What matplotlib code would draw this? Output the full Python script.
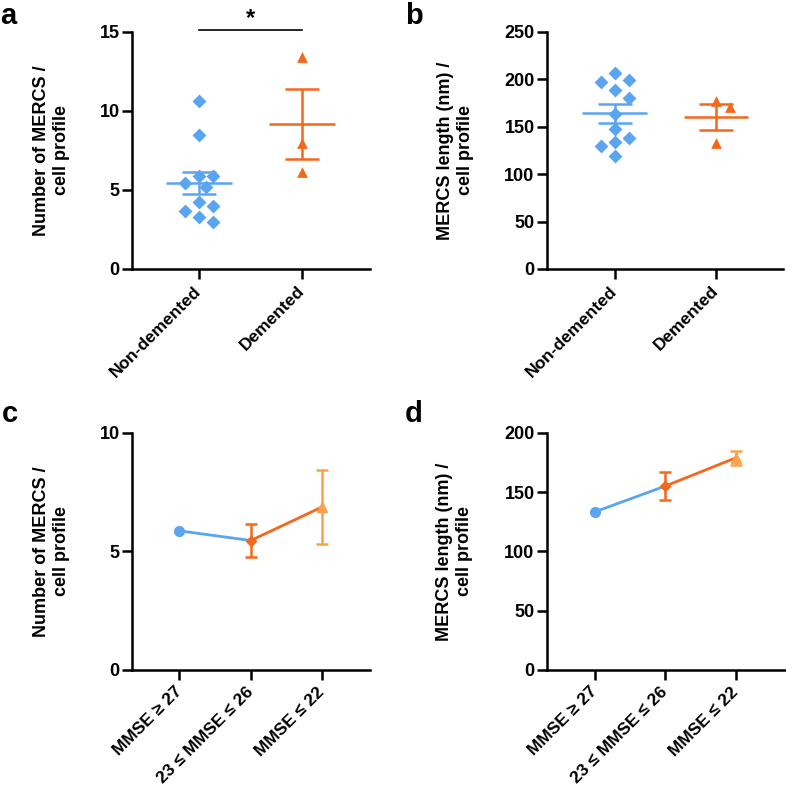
import numpy as np
import matplotlib.pyplot as plt

plt.rcParams['font.family'] = ['Liberation Sans', 'DejaVu Sans']
plt.rcParams['font.weight'] = 'bold'

BLUE = '#5AA5F0'
ORANGE = '#F5681C'
LIGHT = '#F9A24C'

# data
groups = ['Non-demented', 'Demented']
count_nd = [10.64, 8.48, 5.89, 5.89, 5.47, 5.18, 4.21, 3.96, 3.64, 3.28, 2.97]
count_d = [13.42, 7.99, 6.12]
length_nd = [207, 199.3, 197, 188.7, 180.3, 163.7, 147.9, 138, 133.8, 129.6, 119]
length_d = [177, 171, 133]

mmse = ['MMSE \u2265 27', '23 \u2264 MMSE \u2264 26', 'MMSE \u2264 22']
count_mean = [5.87, 5.46, 6.88]
count_err = [0, 0.69, 1.55]
length_mean = [133.4, 155.2, 179.0]
length_err = [0, 11.9, 5.8]


def swarm(vals, ypx, xpx, size=13, step=0.07):
    # simple beeswarm: push points sideways until they don't overlap
    placed = []
    offs = []
    cands = [0] + [s * step * i for i in range(1, 15) for s in (1, -1)]
    for v in vals:
        y = v * ypx
        for c in cands:
            if all(((c - o) * xpx) ** 2 + (y - py) ** 2 >= size ** 2 for o, py in placed):
                break
        placed.append((c, y))
        offs.append(c)
    return np.array(offs)


def style(ax, yticks, xlim, labels, ylabel, lx):
    for s in ['top', 'right']:
        ax.spines[s].set_visible(False)
    for s in ['left', 'bottom']:
        ax.spines[s].set_linewidth(1.8)
    ax.tick_params(width=1.8, length=7, labelsize=13, pad=2)
    ax.tick_params(axis='x', pad=7)
    ax.set_yticks(yticks)
    ax.set_ylim(yticks[0], yticks[-1])
    ax.set_xlim(*xlim)
    ax.set_xticks(range(len(labels)))
    ax.set_xticklabels(labels, rotation=45, ha='right', va='center',
                       rotation_mode='anchor', fontsize=12.5, fontweight='bold')
    ax.set_ylabel(ylabel, fontsize=13, fontweight='bold', linespacing=1.25)
    ax.yaxis.set_label_coords(lx, 0.5)


def dotplot(ax, sets, markers, colors, ypx, xpx):
    for i, (vals, m, c) in enumerate(zip(sets, markers, colors)):
        vals = np.array(vals)
        x = i + swarm(vals, ypx, xpx)
        ax.scatter(x, vals, marker=m, s=50 if m == 'D' else 60, color=c,
                   linewidths=0, zorder=3, clip_on=False)
        mean = vals.mean()
        sem = vals.std(ddof=1) / np.sqrt(len(vals))
        ax.hlines(mean, i - 0.32, i + 0.32, color=c, lw=1.8, zorder=4)
        ax.errorbar(i, mean, yerr=sem, fmt='none', ecolor=c, elinewidth=1.8,
                    capsize=12, capthick=1.8, zorder=4)


def lineplot(ax, means, errs):
    x = np.arange(len(means))
    ax.plot(x[:2], means[:2], color=BLUE, lw=2, zorder=2)
    ax.plot(x[1:], means[1:], color=ORANGE, lw=2, zorder=2)
    for xi, m, e, mk, c, ms in zip(x, means, errs, ['o', 'D', '^'],
                                   [BLUE, ORANGE, LIGHT], [7, 5.5, 6.5]):
        ax.errorbar(xi, m, yerr=e if e else None, fmt=mk, color=c, ms=ms,
                    elinewidth=1.8, capsize=4, capthick=1.8, zorder=3,
                    clip_on=False)


fig = plt.figure(figsize=(7.86, 7.90), dpi=100)
ax_a = fig.add_axes([0.168, 0.6595, 0.303, 0.300])
ax_b = fig.add_axes([0.696, 0.6595, 0.300, 0.300])
ax_c = fig.add_axes([0.168, 0.152, 0.303, 0.300])
ax_d = fig.add_axes([0.696, 0.152, 0.303, 0.300])

# a
dotplot(ax_a, [count_nd, count_d], ['D', '^'], [BLUE, ORANGE], 15.8, 103)
style(ax_a, [0, 5, 10, 15], (-0.65, 1.66), groups,
      'Number of MERCS /\ncell profile', -0.26)
ax_a.plot([0, 1], [15.1, 15.1], color='black', lw=1.2, clip_on=False)
ax_a.text(0.5, 15.15, '*', ha='center', va='bottom', fontsize=17,
          fontweight='bold')

# b
dotplot(ax_b, [length_nd, length_d], ['D', '^'], [BLUE, ORANGE], 0.944, 101)
style(ax_b, [0, 50, 100, 150, 200, 250], (-0.67, 1.66), groups,
      'MERCS length (nm) /\ncell profile', -0.31)

# c
lineplot(ax_c, count_mean, count_err)
style(ax_c, [0, 5, 10], (-0.66, 2.67), mmse,
      'Number of MERCS /\ncell profile', -0.26)

# d
lineplot(ax_d, length_mean, length_err)
style(ax_d, [0, 50, 100, 150, 200], (-0.68, 2.70), mmse,
      'MERCS length (nm) /\ncell profile', -0.31)

for lab, x, y in [('a', 0.0, 1 - 24 / 790), ('b', 0.515, 1 - 24 / 790),
                  ('c', 0.002, 1 - 422 / 790), ('d', 0.515, 1 - 422 / 790)]:
    fig.text(x, y, lab, fontsize=21, fontweight='bold', va='baseline')

fig.savefig('out.png', dpi=100)
